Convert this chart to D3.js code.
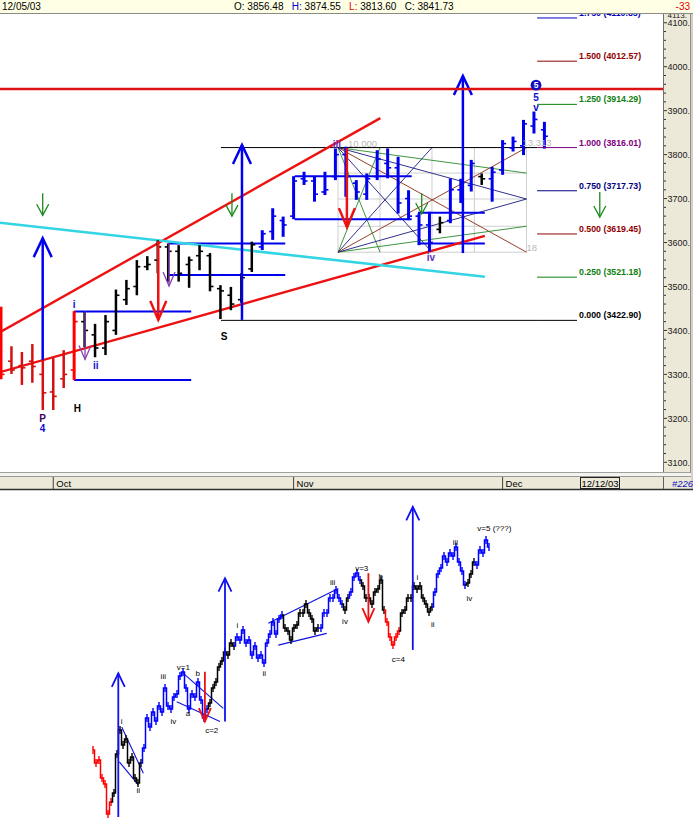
<!DOCTYPE html>
<html><head><meta charset="utf-8">
<script src="https://cdn.jsdelivr.net/npm/d3@7"></script>
<style>body{margin:0;background:#fff}svg{display:block}text{font-family:"Liberation Sans",Arial,sans-serif}</style>
</head><body><svg id="c" width="693" height="840"></svg>
<script>
// ---------- main chart data (bar index, OHLC) ----------
const highs =[3454,3364,3351,3369,3333,3337,3355,3444,3442,3415,3435,3493,3515,3560,3569,3605,3598,3594,3568,3594,3576,3503,3499,3530,3602,3628,3678,3659,3751,3761,3750,3761,3814,3818,3742,3757,3810,3814,3795,3719,3666,3670,3659,3746,3745,3788,3757,3772,3833,3841,3879,3898,3874.55];
const lows  =[3289,3301,3276,3281,3219,3219,3269,3287,3362,3339,3344,3390,3458,3480,3537,3530,3511,3511,3497,3537,3489,3426,3446,3463,3533,3583,3606,3613,3653,3731,3693,3708,3742,3704,3697,3697,3742,3746,3666,3651,3594,3579,3621,3644,3690,3716,3731,3693,3754,3807,3799,3848,3813.60];
const opens =[3440,3330,3320,3330,3300,3260,3290,3310,3420,3390,3360,3400,3470,3500,3545,3560,3590,3580,3550,3570,3570,3495,3480,3470,3540,3590,3625,3650,3660,3745,3740,3715,3750,3800,3735,3710,3750,3780,3770,3700,3660,3640,3630,3650,3720,3730,3750,3745,3765,3815,3820,3865,3856.48];
const closes=[3300,3310,3315,3318,3258,3250,3300,3420,3400,3360,3420,3480,3495,3545,3550,3590,3580,3530,3560,3580,3500,3490,3460,3520,3595,3620,3660,3640,3740,3740,3710,3720,3800,3750,3715,3745,3790,3770,3690,3660,3640,3600,3645,3720,3735,3780,3745,3760,3825,3830,3870,3880,3841.73];
const barColors=["R","r","r","r","r","r","r","R","k","k","k","k","k","k","k","k","k","k","k","k","k","k","k","k","k","b","b","b","b","b","b","b","b","b","b","b","b","b","b","b","b","b","k","b","b","b","k","b","b","b","b","b","b"];
const monthTicks=[{i:5,t:"Oct"},{i:28,t:"Nov"},{i:48,t:"Dec"}];
const yTicks=[3100,3200,3300,3400,3500,3600,3700,3800,3900,4000,4100];
const fibRatios=["0.000","0.250","0.500","0.750","1.000","1.250","1.500","1.750"];
const fibValues=[3422.90,3521.18,3619.45,3717.73,3816.01,3914.29,4012.57,4110.85];
const fibColors=["#000000","#108010","#900000","#000080","#800080","#108010","#900000","#0000c0"];
const resistance=3949;
const trendLines=[
  {a:-0.1,va:3396,b:36.3,vb:3883,k:"red"},
  {a:-0.1,va:3305,b:46.3,vb:3615,k:"red"},
  {a:-0.1,va:3645,b:46.3,vb:3522,k:"cyan"}];
const levelLines=[
  {a:7,b:18.2,v:3443,k:"b"},{a:7,b:18.2,v:3287,k:"b"},
  {a:16,b:27.2,v:3598,k:"b"},{a:16,b:27.2,v:3526,k:"b"},
  {a:28.1,b:39.3,v:3751,k:"b"},{a:28.1,b:39.3,v:3653,k:"b"},
  {a:39.9,b:46.3,v:3668,k:"b"},{a:39.9,b:46.3,v:3598,k:"b"},
  {a:21.05,b:51.3,v:3816.01,k:"k"},{a:21.05,b:51.3,v:3422.90,k:"k"}];
const gannX=[32.25,36.27,41.24,45.3,50.29];
const gannV=[3816,3758,3699,3637,3578];
const fans=[[0,0,4,1,"g"],[0,0,4,2,"n"],[0,0,4,4,"br"],[0,0,1,4,"g"],[0,0,2,4,"n"],
            [0,4,4,3,"g"],[0,4,4,2,"n"],[0,4,4,0,"br"],[0,4,1,0,"g"],[0,4,2,0,"n"]];
const arrows=[
  {i:3.99,from:3333,to:3610,k:"blue"},{i:23.06,from:3424,to:3822,k:"blue"},{i:44.2,from:3576,to:3979,k:"blue"},
  {i:15.05,from:3603,to:3424,k:"red"},{i:33.1,from:3815,to:3635,k:"red"},
  {i:3.99,from:3712,to:3662,k:"green"},{i:22.1,from:3712,to:3660,k:"green"},{i:40.26,from:3712,to:3665,k:"green"},{i:57.3,from:3715,to:3658,k:"green"},
  {i:8.04,from:3443,to:3334,k:"purple"},{i:16.08,from:3599,to:3501,k:"purple"}];
const labels=[
  {t:"i",i:6.99,v:3458,k:"blue"},{t:"ii",i:9.06,v:3321,k:"blue"},
  {t:"P",i:3.97,v:3200,k:"dpurple"},{t:"4",i:3.97,v:3177,k:"blue"},
  {t:"H",i:7.3,v:3223,k:"black"},{t:"S",i:21.34,v:3387,k:"black"},
  {t:"iii",i:32.15,v:3824,k:"violet"},{t:"10.000",i:34.6,v:3824,k:"gray"},
  {t:"iv",i:41.15,v:3565,k:"violet"},{t:"13.313",i:51.3,v:3828,k:"gray"},
  {t:"18",i:50.8,v:3589,k:"gray"},{t:"5",i:51.2,v:3931,k:"blue"},{t:"v",i:51.2,v:3908,k:"blue"}];
const waveCircle={t:"5",i:51.2,v:3958};

// ---------- lower wave sketch data ----------
const lowerValues=[23.3,19,20,14,12,2,6,9,22,30,25,27,19,21,14,12.3,19,24,34,31,36,33,38,36,44,38,37,41,42,48,49.3,44,37,42,41,46,40,34,37,39,44,46,51,53,56,55,59,58,61,60,63.3,59,60,55,58,54,55,52.3,59,62,66,62,67,68.3,64,63,60,64,65,69,69,72,69,67,63,64,64,69,69,74,74,76.7,74,72,70,74,76,81,82.3,80,78,74,74,72,76,77,80,70,66,61,58.3,61,63,69,70,74,74,78,77,78,74,72,69.3,71,76,82,84,88,86,89,88,91,86,83,78.3,79,82,86,85,90,89,93.3,91];
const lowerSegments=[[0,6,"r"],[7,16,"k"],[17,38,"b"],[39,47,"k"],[48,63,"b"],[64,75,"k"],[76,83,"b"],[84,85,"k"],[86,89,"b"],[90,97,"k"],[98,102,"r"],[103,113,"k"],[114,124,"b"],[125,127,"k"],[128,132,"b"]];
const lowerArrows=[{i:8.43,from:1,to:48.9,k:"blue"},{i:44,from:32.8,to:80.6,k:"blue"},{i:106.6,from:56.7,to:104.4,k:"blue"},
  {i:37.3,from:49.4,to:32.8,k:"red"},{i:91.8,from:82.3,to:66.1,k:"red"}];
const lowerTrend=[[9.57,31,16.77,15.6],[8.77,19.4,15.1,11.7],[30.1,48.9,43.43,37.2],[27.9,39.4,42.33,32.8],[58.43,65.6,81.77,77.2],[61.77,58.3,77.9,62.2]];
const lowerLabels=[{t:"i",i:9.57,v:32.8},{t:"ii",i:15.1,v:10},{t:"iii",i:23.43,v:47.8},{t:"iv",i:26.77,v:32.8},{t:"v=1",i:30.1,v:51},{t:"a",i:31.67,v:35.7},{t:"b",i:34.9,v:48.9},{t:"c=2",i:39.57,v:30},{t:"i",i:48.1,v:64.8},{t:"ii",i:57.1,v:48.9},{t:"iii",i:79.9,v:79.4},{t:"iv",i:84,v:66.4},{t:"v=3",i:89.57,v:83.9},{t:"b",i:95.9,v:81.4},{t:"c=4",i:101.77,v:53.6},{t:"i",i:108.1,v:80.9},{t:"ii",i:113.23,v:65.3},{t:"iii",i:120.77,v:92.6},{t:"iv",i:125.43,v:73.8},{t:"v=5 (???)",i:133.77,v:97.2}];

// ---------- drawing ----------
const svg=d3.select("#c");
const x=d3.scaleLinear().domain([0,63]).range([1,659.35]);
const y=d3.scaleLinear().domain([3100,4000]).range([462.3,66.7]);
const BAR={R:"#ff0000",r:"#d41010",k:"#000000",b:"#0000ee"};
const LC={red:"#ee1111",cyan:"#33d4e4",b:"#0000ee",k:"#000000",g:"#2a8a2a",n:"#1a1a80",br:"#8a2a10"};
const AC={blue:"#0000ee",red:"#ee1111",green:"#1a8a1a",purple:"#8a40b0"};
const AH={blue:[9,19,2.5],red:[8,19,2.5],green:[6,11,1.3],purple:[6,14,1.3]};
const TC={blue:"#1010d0",dpurple:"#400060",black:"#000",violet:"#6030c0",gray:"#b8b8b8"};

svg.append("rect").attr("width",693).attr("height",840).attr("fill","#fff");
const defs=svg.append("defs");
defs.append("clipPath").attr("id","pc").append("rect").attr("x",0).attr("y",14).attr("width",663).attr("height",458);
const g=svg.append("g").attr("clip-path","url(#pc)");

function seg(p,x1,y1,x2,y2,c,w){return p.append("line").attr("x1",x1).attr("y1",y1).attr("x2",x2).attr("y2",y2).attr("stroke",c).attr("stroke-width",w);}

// Gann grid + fan
gannX.forEach(v=>seg(g,x(v),y(gannV[0]),x(v),y(gannV[4]),"#cfcfcf",1));
gannV.forEach(v=>seg(g,x(gannX[0]),y(v),x(gannX[4]),y(v),"#cfcfcf",1));
fans.forEach(f=>seg(g,x(gannX[f[0]]),y(gannV[f[1]]),x(gannX[f[2]]),y(gannV[f[3]]),LC[f[4]],0.9));

// level lines
levelLines.forEach(l=>seg(g,x(l.a),y(l.v),x(l.b),y(l.v),LC[l.k],l.k==="b"?2:1));

// trend lines
trendLines.forEach(t=>seg(g,x(t.a),y(t.va),x(t.b),y(t.vb),LC[t.k],t.k==="cyan"?2.6:2.4));

// bars
highs.forEach((h,i)=>{
  const c=BAR[barColors[i]], cx=x(i);
  const w=(barColors[i]==="b"||barColors[i]==="R")?3:2.5;
  seg(g,cx,y(h),cx,y(lows[i]),c,w);
  seg(g,cx-3.5,y(opens[i]),cx,y(opens[i]),c,1.6);
  seg(g,cx,y(closes[i]),cx+3.5,y(closes[i]),c,1.6);
});

// arrows
function arrow(p,cx,y1,y2,col,hw,hh,w){
  seg(p,cx,y1,cx,y2,col,w);
  const d=y2<y1?1:-1;
  p.append("path").attr("d",`M${cx-hw},${y2+d*hh}L${cx},${y2}L${cx+hw},${y2+d*hh}`)
   .attr("fill","none").attr("stroke",col).attr("stroke-width",w);
}
arrows.forEach(a=>{const h=AH[a.k];arrow(g,x(a.i),y(a.from),y(a.to),AC[a.k],h[0],h[1],h[2]);});

// resistance line
seg(g,0,y(resistance),663,y(resistance),"#dd1111",2.5);

// fib levels
fibValues.forEach((v,k)=>{
  seg(g,x(51.3),y(v),x(55.12),y(v),fibColors[k],1);
  g.append("text").attr("x",x(55.12)+2).attr("y",y(v)-2).attr("font-size",8.8).attr("font-weight","bold")
   .attr("fill",fibColors[k]).text(`${fibRatios[k]} (${v.toFixed(2)})`);
});

// labels
labels.forEach(l=>{
  g.append("text").attr("x",x(l.i)).attr("y",y(l.v)).attr("dy","0.35em").attr("text-anchor","middle")
   .attr("font-size",l.k==="gray"?9.5:10).attr("font-weight",l.k==="gray"?"normal":"bold").attr("fill",TC[l.k]).text(l.t);
});
g.append("circle").attr("cx",x(waveCircle.i)).attr("cy",y(waveCircle.v)).attr("r",5.4).attr("fill","#1010c0");
g.append("text").attr("x",x(waveCircle.i)).attr("y",y(waveCircle.v)).attr("dy","0.35em").attr("text-anchor","middle")
 .attr("font-size",8.5).attr("font-weight","bold").attr("fill","#fff").text(waveCircle.t);

// ---------- right axis panel ----------
svg.append("rect").attr("x",663).attr("y",14).attr("width",27).attr("height",458).attr("fill","#ece9d8");
seg(svg,663.5,14,663.5,472,"#707070",1);
seg(svg,690.5,14,690.5,490,"#909090",1);
svg.append("rect").attr("x",691).attr("y",14).attr("width",2).attr("height",476).attr("fill","#d4d0c8");
defs.append("clipPath").attr("id","axc").append("rect").attr("x",663).attr("y",14).attr("width",27).attr("height",458);
const ax=svg.append("g").attr("clip-path","url(#axc)");
d3.range(3100,4120,20).forEach(v=>{const maj=v%100===0;seg(ax,664,y(v),maj?667:666,y(v),"#303030",1);});
yTicks.forEach(v=>ax.append("text").attr("x",667.5).attr("y",y(v)+3.2).attr("font-size",9).attr("fill","#202020").text(v+"."));
ax.append("text").attr("x",667.5).attr("y",17.5).attr("font-size",8).attr("fill","#202020").text("4113.");

// ---------- top info bar ----------
svg.append("rect").attr("x",0).attr("y",0).attr("width",693).attr("height",13).attr("fill","#ffffe6");
seg(svg,0,13.5,693,13.5,"#8a8a8a",1);
svg.append("text").attr("x",2).attr("y",10).attr("font-size",10).attr("fill","#000").text("12/05/03");
const info=svg.append("text").attr("x",234).attr("y",10).attr("font-size",10).attr("xml:space","preserve");
[["O: ","#000"],["3856.48   ","#000"],["H: ","#0000d0"],["3874.55   ","#000"],["L: ","#e00000"],["3813.60   ","#000"],["C: ","#000"],["3841.73","#000"]]
  .forEach(p=>info.append("tspan").attr("fill",p[1]).text(p[0]));
svg.append("text").attr("x",690).attr("y",9.5).attr("text-anchor","end").attr("font-size",10).attr("fill","#e00000").text("-33");

// ---------- bottom time bar ----------
seg(svg,0,472.5,690,472.5,"#a0a0a0",1);
svg.append("rect").attr("x",0).attr("y",473).attr("width",691).attr("height",4).attr("fill","#f4f3ee");
svg.append("rect").attr("x",0).attr("y",477).attr("width",691).attr("height",12).attr("fill","#ece9d8");
seg(svg,0,476.5,691,476.5,"#9a9a9a",1);
seg(svg,0,489.5,693,489.5,"#303030",1.5);
monthTicks.forEach(m=>{
  seg(svg,x(m.i),477,x(m.i),489,"#404040",1);
  svg.append("text").attr("x",x(m.i)+3).attr("y",487).attr("font-size",9.5).attr("fill","#000").text(m.t);
});
svg.append("rect").attr("x",580.5).attr("y",477.5).attr("width",39).attr("height",11).attr("fill","#ece9d8").attr("stroke","#202020");
svg.append("text").attr("x",600).attr("y",486.8).attr("text-anchor","middle").attr("font-size",9.5).attr("fill","#000").text("12/12/03");
seg(svg,663.5,477,663.5,489,"#606060",1);
svg.append("text").attr("x",672).attr("y",487).attr("font-size",9.5).attr("font-style","italic").attr("fill","#1010c0").text("#226");

// ---------- lower wave sketch ----------
const xl=d3.scaleLinear().domain([0,132]).range([93,489]);
const yl=d3.scaleLinear().domain([0,100]).range([820,520]);
const LW={r:"#ff0000",k:"#000000",b:"#0000ff"};
const low=svg.append("g");
lowerTrend.forEach(t=>seg(low,xl(t[0]),yl(t[1]),xl(t[2]),yl(t[3]),"#1010e0",1.1));
lowerSegments.forEach(s=>{
  const idx=d3.range(Math.max(0,s[0]-1),s[1]+1);
  low.append("path").attr("d",d3.line().x(i=>xl(i)).y(i=>yl(lowerValues[i])).curve(d3.curveStep)(idx))
     .attr("fill","none").attr("stroke",LW[s[2]]).attr("stroke-width",1.5);
  d3.range(s[0],s[1]+1).forEach(i=>seg(low,xl(i),yl(lowerValues[i])-4,xl(i),yl(lowerValues[i])+4,LW[s[2]],1.4));
});
lowerArrows.forEach(a=>arrow(low,xl(a.i),yl(a.from),yl(a.to),a.k==="blue"?"#1010ee":"#ee1111",a.k==="blue"?6.5:6,13.5,1.8));
lowerLabels.forEach(l=>low.append("text").attr("x",xl(l.i)).attr("y",yl(l.v)).attr("dy","0.35em").attr("text-anchor","middle")
  .attr("font-size",8).attr("fill","#000").text(l.t));
</script></body></html>
